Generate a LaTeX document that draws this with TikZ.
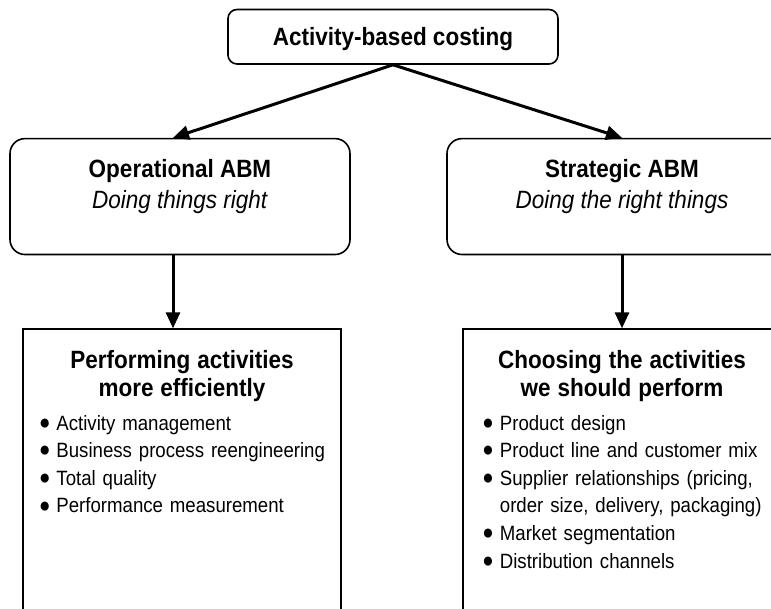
\documentclass[tikz,border=0pt]{standalone}
\usepackage{fontspec}
\setmainfont{Liberation Sans}[FakeStretch=0.9]
\usetikzlibrary{arrows.meta,positioning}

\setlength{\parindent}{0pt}
\setlength{\parskip}{0pt}
\newcommand{\headfont}{\bfseries\fontsize{25}{28}\selectfont}
\newcommand{\itemdot}{\raisebox{0.8pt}{\fontsize{21}{21}\selectfont ●}}

\begin{document}
\begin{tikzpicture}[
  node distance=73pt,
  topbox/.style={rectangle, draw, line width=1.6pt, rounded corners=9pt, minimum width=330pt, minimum height=54.5pt, text depth=0pt, font=\bfseries\fontsize{25}{30}\selectfont},
  abm/.style={rectangle, draw, line width=1.6pt, rounded corners=15pt, minimum width=340pt, inner ysep=20.8pt, align=center, font=\fontsize{25}{30.5}\selectfont},
  actbox/.style={rectangle, draw, line width=1.6pt, text width=308pt, inner xsep=5pt, inner ysep=20.8pt, align=center, font=\fontsize{20.7}{27.6}\selectfont},
  arrow/.style={-{Triangle[width=14pt,length=16pt]}, line width=3pt}
]
\useasboundingbox (0,0) rectangle (771pt,-609pt);
\clip (0,0) rectangle (771pt,-609pt);

% Top
\node[topbox] (costing) at (393pt,-36.75pt) {Activity-based costing};

% Operational side
\node[abm] (opabm) [below=73pt of costing, xshift=-213pt] {\textbf{Operational ABM}\\\textit{Doing things right}\rule[-25.7pt]{0pt}{0pt}};
\draw[arrow] (costing.south) -- ([xshift=-7pt]opabm.north);

\node[actbox] (opact) [below=73pt of opabm, xshift=2pt] {{\headfont Performing activities\\more efficiently\par}
  \vspace{6.4pt}
  \begin{tabular}[t]{@{}l@{\hspace{6pt}}l@{}}
    \itemdot & Activity management\\
    \itemdot & Business process reengineering\\
    \itemdot & Total quality\\
    \itemdot & Performance measurement\rule[-150pt]{0pt}{0pt}
  \end{tabular}};
\draw[arrow] ([xshift=-7pt]opabm.south) -- ([xshift=-9pt]opact.north);

% Strategic side
\node[abm, minimum width=350pt] (stratabm) [below=73pt of costing, xshift=229pt] {\textbf{Strategic ABM}\\\textit{Doing the right things}\rule[-25.7pt]{0pt}{0pt}};
\draw[arrow] (costing.south) -- (stratabm.north);

\node[actbox] (stratact) [below=73pt of stratabm] {{\headfont Choosing the activities\\we should perform\par}
  \vspace{6.4pt}
  \begin{tabular}[t]{@{}l@{\hspace{6pt}}l@{}}
    \itemdot & Product design\\
    \itemdot & Product line and customer mix\\
    \itemdot & Supplier relationships (pricing,\\
             & order size, delivery, packaging)\\
    \itemdot & Market segmentation\\
    \itemdot & Distribution channels\rule[-150pt]{0pt}{0pt}
  \end{tabular}};
\draw[arrow] (stratabm.south) -- (stratact.north);

\end{tikzpicture}
\end{document}
